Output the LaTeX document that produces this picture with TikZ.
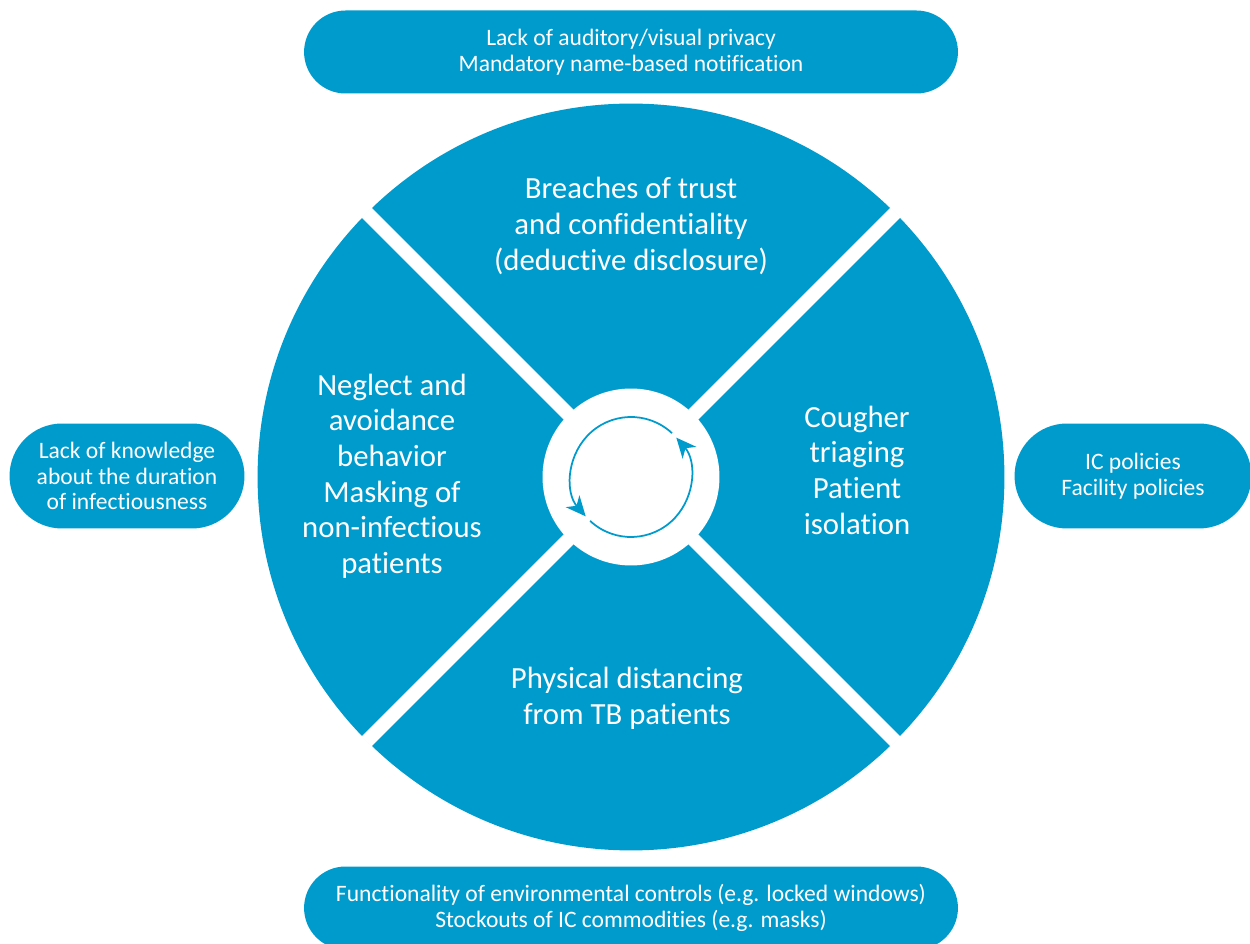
\documentclass[tikz,border=0pt]{standalone}
\usepackage{fontspec}
\setmainfont[Ligatures=NoCommon]{Carlito}
\usetikzlibrary{shapes.misc,arrows.meta}
\definecolor{tbblue}{RGB}{0,155,205}

\begin{document}
\begin{tikzpicture}[
	x=0.02cm, y=0.02cm,
	pill/.style={
		rounded rectangle,
		fill=tbblue,
		text=white,
		align=center,
		inner sep=0pt,
		font=\fontsize{13.4}{14.7}\selectfont
	},
	segment/.style={
		align=center,
		text=white,
		inner sep=0pt,
		font=\fontsize{17.5}{20.3}\selectfont
	},
	loop/.style={
		draw=tbblue,
		line width=0.035cm,
		-{Stealth[length=0.4cm,width=0.36cm,inset=0.12cm]}
	},
]

\clip (0,0) rectangle (1250,943);

% wheel, cut in four
\node[circle, fill=tbblue, minimum size=14.94cm, inner sep=0pt] (wheel) at (631,466) {};
\foreach \a in {45, 135, 225, 315}
	\draw[white, line width=0.28cm] (wheel.center) -- (wheel.\a);
\node[circle, fill=white, minimum size=3.54cm, inner sep=0pt] (hub) at (wheel.center) {};

% cycle arrows
\draw[loop] ([shift={(47:60)}]hub.center) arc[start angle=47, end angle=221, radius=60];
\draw[loop] ([shift={(227:60)}]hub.center) arc[start angle=227, end angle=401, radius=60];

% sectors
\node[segment] (trust) at (631,717) {Breaches of trust\\and confidentiality\\(deductive disclosure)};
\node[segment] (triage) at (857,473) {Cougher\\triaging\\Patient\\isolation};
\node[segment] (distancing) at (627,245) {Physical distancing\\from TB patients};
\node[segment] (neglect) at (392,467) {Neglect and\\avoidance\\behavior\\Masking of\\non-infectious\\patients};

% outer factors
\node[pill, minimum width=13.08cm, minimum height=1.66cm] (privacy) at (631,891) {Lack of auditory/visual privacy\\Mandatory name-based notification};
\node[pill, minimum width=13.08cm, minimum height=1.66cm] (controls) at (631,35) {Functionality of environmental controls (e.g. locked windows)\\Stockouts of IC commodities (e.g. masks)};
\node[pill, minimum width=4.7cm, minimum height=2.1cm] (knowledge) at (127,467) {Lack of knowledge\\about the duration\\of infectiousness};
\node[pill, minimum width=4.74cm, minimum height=2.1cm] (policies) at (1133,467) {IC policies\\Facility policies};

\end{tikzpicture}
\end{document}
